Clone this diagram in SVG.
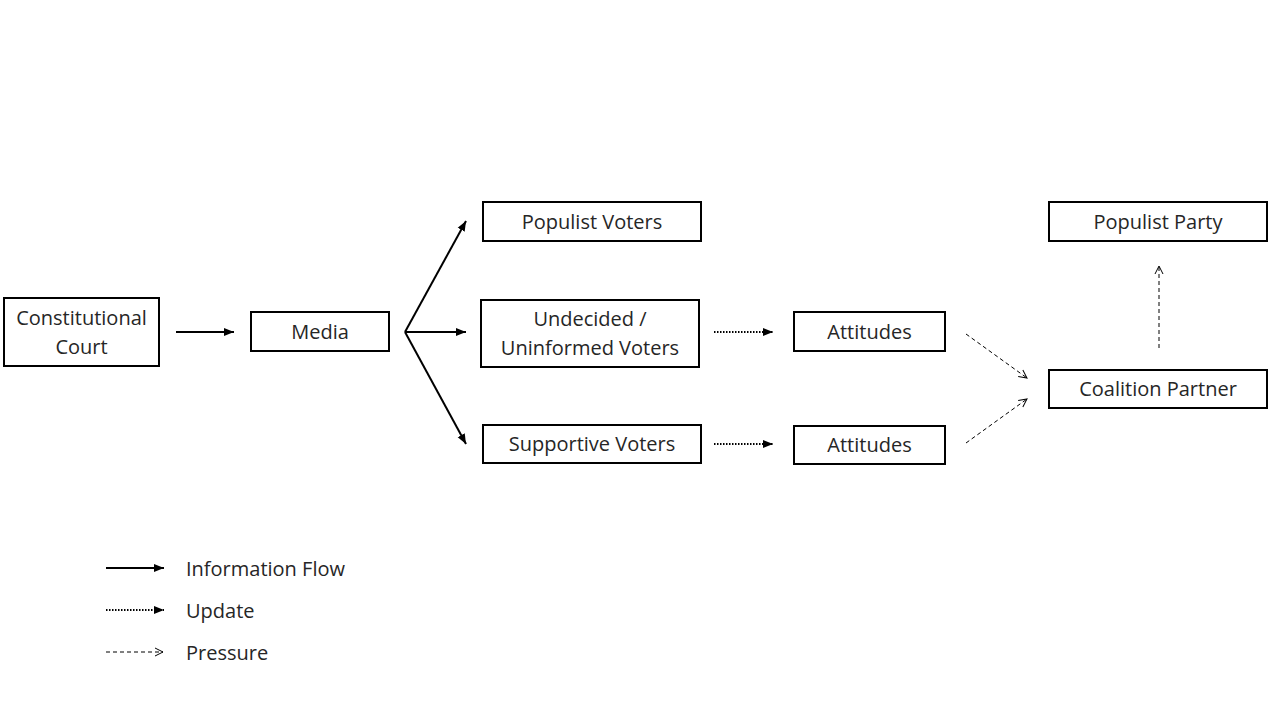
<svg xmlns="http://www.w3.org/2000/svg" width="1280" height="720" viewBox="0 0 1280 720">
<defs>
<style>
.box{fill:#fff;stroke:#000;stroke-width:2}
.t{font-family:"Open Sans","Noto Sans",sans-serif;font-size:20px;fill:#262626;text-anchor:middle}
.lt{font-family:"Open Sans","Noto Sans",sans-serif;font-size:20px;fill:#262626}
.solid{stroke:#000;stroke-width:2;fill:none}
.dot{stroke:#000;stroke-width:2;stroke-dasharray:1.5 1.5;fill:none}
.dash{stroke:#000;stroke-width:1;stroke-dasharray:4 3;fill:none}
</style>
<marker id="af" viewBox="0 0 10 10" refX="10" refY="5" markerWidth="5" markerHeight="5" markerUnits="strokeWidth" orient="auto">
<path d="M0,1 L10,5 L0,9 Z" fill="#000"/>
</marker>
<marker id="ao" viewBox="0 0 10 10" refX="9" refY="5" markerWidth="10" markerHeight="10" markerUnits="strokeWidth" orient="auto">
<path d="M1,1 L9,5 L1,9" fill="none" stroke="#000" stroke-width="1"/>
</marker>
</defs>
<rect width="1280" height="720" fill="#fff"/>
<g id="connectors">
<line class="solid" x1="176" y1="332" x2="234" y2="332" marker-end="url(#af)"/>
<line class="solid" x1="405" y1="332" x2="466" y2="221" marker-end="url(#af)"/>
<line class="solid" x1="405" y1="332" x2="466" y2="332" marker-end="url(#af)"/>
<line class="solid" x1="405" y1="332" x2="466" y2="444" marker-end="url(#af)"/>
<line class="dot" x1="714" y1="332" x2="773" y2="332" marker-end="url(#af)"/>
<line class="dot" x1="714" y1="444" x2="773" y2="444" marker-end="url(#af)"/>
<line class="dash" x1="966" y1="334" x2="1027" y2="378" marker-end="url(#ao)"/>
<line class="dash" x1="966" y1="443" x2="1027" y2="399" marker-end="url(#ao)"/>
<line class="dash" x1="1159" y1="348" x2="1159" y2="266" marker-end="url(#ao)"/>
</g>
<g id="court"><rect class="box" x="4" y="298" width="155" height="68"/><text class="t" x="81.5" y="325">Constitutional</text><text class="t" x="81.5" y="354">Court</text></g>
<g id="media"><rect class="box" x="251" y="312" width="138" height="39"/><text class="t" x="320" y="339">Media</text></g>
<g id="populist-voters"><rect class="box" x="483" y="202" width="218" height="39"/><text class="t" x="592" y="229">Populist Voters</text></g>
<g id="undecided"><rect class="box" x="481" y="300" width="218" height="67"/><text class="t" x="590" y="326">Undecided /</text><text class="t" x="590" y="355">Uninformed Voters</text></g>
<g id="supportive"><rect class="box" x="483" y="425" width="218" height="38"/><text class="t" x="592" y="451">Supportive Voters</text></g>
<g id="attitudes1"><rect class="box" x="794" y="312" width="151" height="39"/><text class="t" x="869.5" y="339">Attitudes</text></g>
<g id="attitudes2"><rect class="box" x="794" y="426" width="151" height="38"/><text class="t" x="869.5" y="452">Attitudes</text></g>
<g id="populist-party"><rect class="box" x="1049" y="202" width="218" height="39"/><text class="t" x="1158" y="229">Populist Party</text></g>
<g id="coalition"><rect class="box" x="1049" y="370" width="218" height="38"/><text class="t" x="1158" y="396">Coalition Partner</text></g>
<g id="legend">
<line class="solid" x1="106" y1="568" x2="164" y2="568" marker-end="url(#af)"/>
<line class="dot" x1="106" y1="610" x2="164" y2="610" marker-end="url(#af)"/>
<line class="dash" x1="106" y1="652" x2="163" y2="652" marker-end="url(#ao)"/>
<text class="lt" x="186" y="576">Information Flow</text>
<text class="lt" x="186" y="618">Update</text>
<text class="lt" x="186" y="660">Pressure</text>
</g>
</svg>
